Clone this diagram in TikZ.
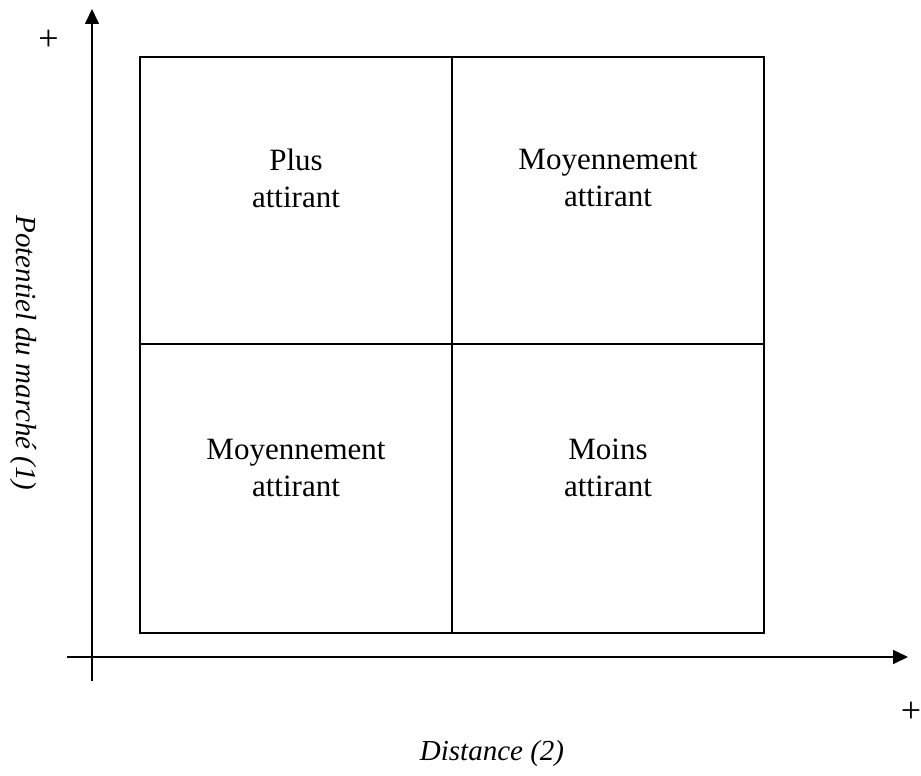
\documentclass[tikz,border=0pt]{standalone}
\usepackage{fontspec}
\setmainfont{Liberation Serif}
\usetikzlibrary{arrows.meta}
\begin{document}
\begin{tikzpicture}[x=1pt,y=-1pt,
  axis/.style={line width=1.7pt,-{Triangle[length=15pt,width=14pt]}},
  cell/.style={line width=1.7pt},
  celltext/.style={font=\fontsize{31}{37}\selectfont,align=center,inner sep=0pt,anchor=north},
  axlabel/.style={font=\fontsize{29}{34}\selectfont\itshape,inner sep=0pt},
  sign/.style={font=\fontsize{36}{40}\selectfont,inner sep=0pt}]
\useasboundingbox (0,0) rectangle (921,776);
% axes
\coordinate (yb) at (92,681);
\coordinate (yt) at (92,9);
\coordinate (xl) at (67,657);
\coordinate (xr) at (908,657);
\draw[axis] (yb) -- (yt);
\draw[axis] (xl) -- (xr);
% grid
\coordinate (tl) at (140,57);
\coordinate (br) at (764,633);
\coordinate (tm) at (452,57);
\coordinate (bm) at (452,633);
\coordinate (ml) at (140,344);
\coordinate (mr) at (764,344);
\draw[cell] (tl) rectangle (br);
\draw[cell] (tm) -- (bm);
\draw[cell] (ml) -- (mr);
% cell texts
\node[celltext] (q1) at (296,149) {Plus\\attirant};
\node[celltext] (q2) at (608,149) {Moyennement\\attirant};
\node[celltext] (q3) at (296,438.5) {Moyennement\\attirant};
\node[celltext] (q4) at (608,438.5) {Moins\\attirant};
% labels
\node[axlabel,rotate=-90] (ylab) at (23,353) {Potentiel du marché (1)};
\node[axlabel] (xlab) at (492,754) {Distance (2)};
\node[sign] (yplus) at (48.5,40.5) {+};
\node[sign] (xplus) at (911,712) {+};
\end{tikzpicture}
\end{document}
